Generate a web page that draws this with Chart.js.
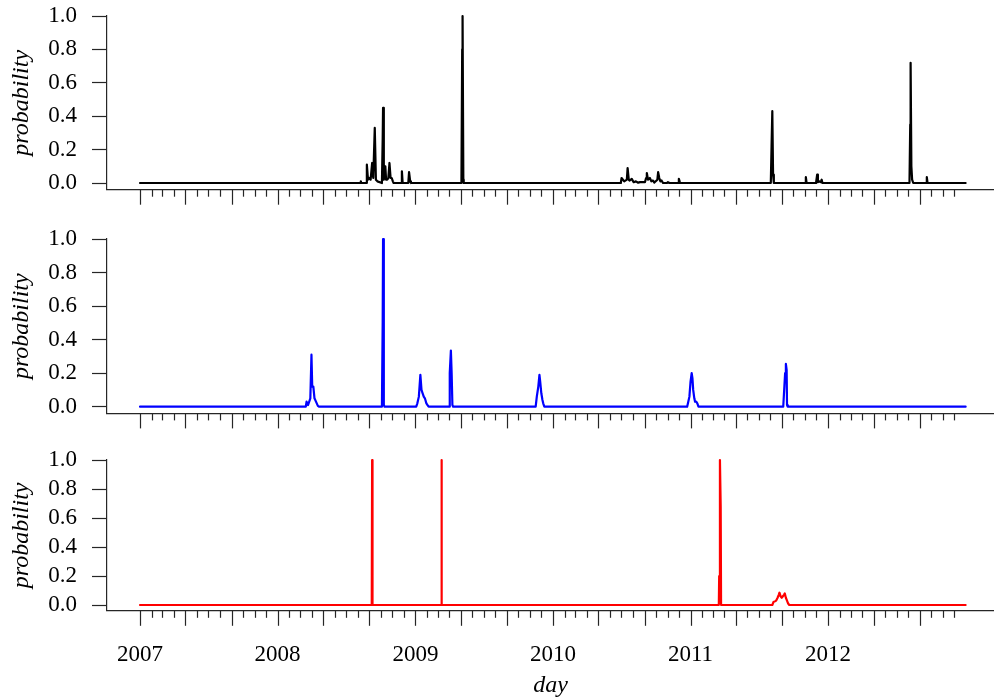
<!DOCTYPE html>
<html>
<head>
<meta charset="utf-8">
<script src="https://cdn.jsdelivr.net/npm/chart.js@4/dist/chart.umd.min.js"></script>
<style>
  html, body { margin: 0; padding: 0; background: #fff; }
  #wrap { position: relative; width: 994px; height: 700px; }
  canvas { position: absolute; left: 0; }
</style>
</head>
<body>
<div id="wrap">
  <canvas id="c1" width="994" height="222" style="top:0px"></canvas>
  <canvas id="c2" width="994" height="223" style="top:222px"></canvas>
  <canvas id="c3" width="994" height="255" style="top:445px"></canvas>
</div>
<script>
// days counted from 2007-01-01
const blackDays = [0, 585, 586, 587, 601, 602, 605, 608, 612, 616, 619, 623, 626, 630, 642, 644, 645, 647, 649, 651, 653, 656, 659, 662, 665, 668, 671, 673, 693, 695, 697, 712, 714, 717, 719,
  853, 855, 856, 858, 859,
  1276, 1278, 1285, 1292, 1294, 1297, 1299, 1305, 1310, 1316, 1322, 1327, 1340, 1343, 1345, 1348, 1353, 1357, 1361, 1365, 1373, 1375, 1378, 1381, 1384, 1388, 1398, 1401, 1405, 1428, 1430, 1432, 1434,
  1674, 1676, 1678, 1680, 1682, 1765, 1767, 1769, 1794, 1797, 1799, 1802, 1807, 1809, 1811,
  2042, 2044, 2045, 2047, 2049, 2052, 2086, 2088, 2090, 2191];
const blackProb = [0, 0, 0.01, 0, 0, 0.11, 0.02, 0.03, 0.02, 0.12, 0.03, 0.33, 0.02, 0.01, 0, 0.26, 0.45, 0.02, 0.05, 0.1, 0.02, 0.02, 0.03, 0.12, 0.03, 0.03, 0.01, 0, 0, 0.07, 0, 0, 0.065, 0.01, 0,
  0, 0.8, 1.0, 0.02, 0,
  0, 0.03, 0.01, 0.02, 0.09, 0.02, 0.015, 0.025, 0.005, 0.01, 0.002, 0.005, 0.005, 0.03, 0.06, 0.02, 0.03, 0.01, 0.015, 0.003, 0.02, 0.065, 0.03, 0.01, 0.015, 0, 0, 0.005, 0, 0, 0.025, 0.01, 0,
  0, 0.22, 0.43, 0.05, 0, 0, 0.035, 0, 0, 0.05, 0.005, 0.01, 0.005, 0.02, 0,
  0, 0.35, 0.72, 0.1, 0.02, 0, 0, 0.035, 0, 0];

const blueDays = [0, 440, 442, 446, 452, 455, 457, 460, 463, 467, 472, 475,
  642, 644, 645, 647, 649,
  733, 736, 740, 744, 747, 750, 753, 756, 760, 763, 766,
  820, 822, 825, 827, 829, 831,
  1050, 1053, 1057, 1060, 1062, 1065, 1068, 1070, 1073,
  1452, 1455, 1458, 1461, 1464, 1466, 1468, 1471, 1473, 1476, 1479, 1482,
  1707, 1710, 1712, 1714, 1716, 1717, 1719, 2191];
const blueProb = [0, 0, 0.03, 0.01, 0.05, 0.31, 0.12, 0.12, 0.05, 0.03, 0.005, 0,
  0, 0.5, 1.0, 0.01, 0,
  0, 0.02, 0.06, 0.19, 0.1, 0.08, 0.06, 0.05, 0.02, 0.01, 0,
  0, 0.2, 0.335, 0.2, 0.01, 0,
  0, 0.06, 0.12, 0.19, 0.15, 0.08, 0.04, 0.02, 0,
  0, 0.03, 0.06, 0.15, 0.2, 0.17, 0.1, 0.05, 0.03, 0.03, 0.02, 0,
  0, 0.12, 0.2, 0.255, 0.22, 0.01, 0, 0];

const redDays = [0, 615, 616, 617, 799, 800, 801, 1536, 1537, 1539, 1541, 1542,
  1678, 1681, 1685, 1688, 1692, 1695, 1697, 1700, 1703, 1706, 1709, 1711, 1714, 1717, 1720, 1723, 2191];
const redProb = [0, 0, 1.0, 0, 0, 1.0, 0, 0, 0.2, 1.0, 0.68, 0,
  0, 0.02, 0.025, 0.03, 0.05, 0.07, 0.085, 0.06, 0.05, 0.06, 0.07, 0.08, 0.05, 0.03, 0.01, 0, 0];

const yearLabels = ['2007', '2008', '2009', '2010', '2011', '2012'];
const yTicks = [0, 0.2, 0.4, 0.6, 0.8, 1.0];

const DAY = 86400000;
const t0 = Date.UTC(2007, 0, 1);
const monthTicks = [];
yearLabels.forEach(y => {
  for (let m = 0; m < 12; m++) {
    monthTicks.push({ value: (Date.UTC(+y, m, 1) - t0) / DAY, month: m, label: m === 0 ? y : '' });
  }
});

const serif = "'Liberation Serif', 'DejaVu Serif', serif";
const axisColor = '#262626';

const tickPlugin = {
  id: 'monthTicks',
  afterDraw(chart) {
    const ctx = chart.ctx, xs = chart.scales.x, b = chart.chartArea.bottom;
    ctx.save();
    ctx.strokeStyle = axisColor;
    ctx.lineWidth = 1.2;
    monthTicks.forEach(t => {
      const px = Math.round(xs.getPixelForValue(t.value)) + 0.5;
      ctx.beginPath();
      ctx.moveTo(px, b);
      ctx.lineTo(px, b + (t.month % 4 === 0 ? 15 : 7));
      ctx.stroke();
    });
    ctx.restore();
  }
};

function makePanel(id, days, probs, color, padTop, xHeight, showX) {
  new Chart(document.getElementById(id), {
    type: 'line',
    data: {
      datasets: [{
        data: days.map((d, i) => ({ x: d, y: probs[i] })),
        borderColor: color,
        borderWidth: 2.2,
        borderJoinStyle: 'round',
        borderCapStyle: 'round',
        pointRadius: 0,
        tension: 0,
        clip: false
      }]
    },
    options: {
      responsive: false,
      animation: false,
      layout: { padding: { top: padTop, left: 0, right: 0, bottom: 0 } },
      plugins: { legend: { display: false }, tooltip: { enabled: false } },
      scales: {
        x: {
          type: 'linear',
          min: -87.6,
          max: 2266.3,
          afterBuildTicks: s => { s.ticks = monthTicks.map(t => ({ value: t.value })); },
          afterFit: s => { s.height = xHeight; s.paddingLeft = 0; s.paddingRight = 0; },
          grid: { display: false, drawTicks: false },
          border: { display: true, color: axisColor, width: 1.2 },
          ticks: {
            display: showX,
            autoSkip: false,
            maxRotation: 0,
            padding: 30,
            color: '#000',
            font: { family: serif, size: 23 },
            callback: (v, i) => monthTicks[i] ? monthTicks[i].label : ''
          },
          title: {
            display: showX,
            text: 'day',
            color: '#000',
            font: { family: serif, size: 24, style: 'italic' },
            padding: { top: 0, bottom: 0 }
          }
        },
        y: {
          min: -0.04,
          max: 1.0,
          afterBuildTicks: s => { s.ticks = yTicks.map(v => ({ value: v })); },
          afterFit: s => { s.width = 107; s.paddingTop = 0; s.paddingBottom = 0; },
          grid: { drawOnChartArea: false, drawTicks: true, tickLength: 15, tickColor: axisColor, tickWidth: 1.2 },
          border: { display: true, color: axisColor, width: 1.2 },
          ticks: {
            autoSkip: false,
            padding: 15,
            color: '#000',
            font: { family: serif, size: 23 },
            callback: v => v.toFixed(1)
          },
          title: {
            display: true,
            text: 'probability',
            color: '#000',
            font: { family: serif, size: 24, style: 'italic' },
            padding: { top: 7, bottom: 0 }
          }
        }
      }
    },
    plugins: [tickPlugin]
  });
}

makePanel('c1', blackDays, blackProb, '#000000', 16, 32.3, false);
makePanel('c2', blueDays, blueProb, '#0000ff', 17, 31.6, false);
makePanel('c3', redDays, redProb, '#ff0000', 15, 89.2, true);
</script>
</body>
</html>
